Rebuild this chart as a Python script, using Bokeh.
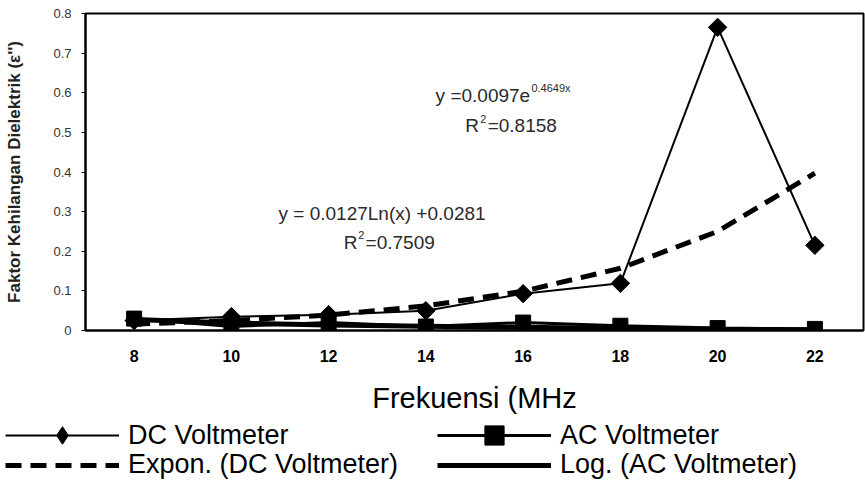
from bokeh.plotting import figure
from bokeh.layouts import column
from bokeh.models import Range1d, Legend, LegendItem, FixedTicker
from bokeh.core.properties import value
from bokeh.embed import file_html
from bokeh.resources import INLINE

# ---- data ----
freq = [8, 10, 12, 14, 16, 18, 20, 22]
dc_voltmeter = [0.025, 0.035, 0.04, 0.05, 0.093, 0.119, 0.765, 0.215]
ac_voltmeter = [0.03, 0.01, 0.02, 0.01, 0.02, 0.012, 0.006, 0.004]
expon_dc_trend = [0.016, 0.025, 0.039, 0.062, 0.099, 0.157, 0.25, 0.397]
log_ac_trend = [0.028, 0.019, 0.014, 0.011, 0.008, 0.005, 0.003, 0.002]

y_ticks = [0, 0.1, 0.2, 0.3, 0.4, 0.5, 0.6, 0.7, 0.8]
y_tick_labels = ["0", "0.1", "0.2", "0.3", "0.4", "0.5", "0.6", "0.7", "0.8"]

eq_texts = ["y =0.0097e", "R", "=0.8158", "y = 0.0127Ln(x) +0.0281", "R", "=0.7509"]
eq_x = [14.20, 14.81, 15.27, 10.97, 12.31, 12.76]
eq_y = [0.593, 0.517, 0.517, 0.295, 0.222, 0.222]
sup_texts = ["0.4649x", "2", "2"]
sup_x = [16.17, 15.12, 12.61]
sup_y = [0.611, 0.535, 0.240]

FONT = "Liberation Sans"

# ---------------- main chart ----------------
p = figure(width=865, height=418,
           x_range=Range1d(7, 23), y_range=Range1d(0, 0.8),
           output_backend="svg", toolbar_location=None,
           min_border_left=85, min_border_right=2,
           min_border_top=13, min_border_bottom=88,
           background_fill_color="white", border_fill_color="white")
p.frame_align = False
p.grid.visible = False
p.outline_line_color = "black"
p.outline_line_width = 2

xa = p.xaxis[0]
xa.ticker = FixedTicker(ticks=freq)
xa.major_tick_out = 0
xa.major_tick_in = 0
xa.minor_tick_out = 0
xa.minor_tick_in = 0
xa.axis_line_width = 2
xa.axis_line_color = "black"
xa.major_label_standoff = 19
xa.major_label_text_font = FONT
xa.major_label_text_font_style = "bold"
xa.major_label_text_font_size = "16px"
xa.major_label_text_color = "black"
xa.axis_label = "Frekuensi (MHz"
xa.axis_label_text_font = FONT
xa.axis_label_text_font_style = "normal"
xa.axis_label_text_font_size = "29px"
xa.axis_label_text_color = "black"
xa.axis_label_standoff = 17

ya = p.yaxis[0]
ya.ticker = FixedTicker(ticks=y_ticks)
ya.major_label_overrides = {t: l for t, l in zip(y_ticks, y_tick_labels)}
ya.major_tick_out = 4
ya.major_tick_in = 0
ya.minor_tick_out = 0
ya.minor_tick_in = 0
ya.axis_line_width = 2
ya.axis_line_color = "black"
ya.major_label_standoff = 10
ya.major_label_text_font = FONT
ya.major_label_text_font_size = "13px"
ya.major_label_text_color = "#333333"
ya.axis_label = "Faktor Kehilangan Dielektrik (ε'')"
ya.axis_label_text_font = FONT
ya.axis_label_text_font_style = "bold"
ya.axis_label_text_font_size = "17px"
ya.axis_label_text_color = "#222222"
ya.axis_label_standoff = 26

EXP_STYLE = dict(line_width=5, line_dash="16 9", color="black")
LOG_STYLE = dict(line_width=5, color="black")
AC_LINE = dict(line_width=3, color="black")
AC_PTS = dict(marker="square", size=15, color="black")
DC_LINE = dict(line_width=2, color="black")
DC_PTS = dict(marker="square", angle=0.785, size=13, color="black")

p.line(freq, expon_dc_trend, **EXP_STYLE)
p.line(freq, log_ac_trend, **LOG_STYLE)
p.line(freq, ac_voltmeter, **AC_LINE)
p.scatter(freq, ac_voltmeter, **AC_PTS)
p.line(freq, dc_voltmeter, **DC_LINE)
p.scatter(freq, dc_voltmeter, **DC_PTS)

p.text(x=eq_x, y=eq_y, text=eq_texts, text_font=value(FONT), text_font_size="19px",
       text_baseline="middle", text_align="left", text_color="#2a2a2a")
p.text(x=sup_x, y=sup_y, text=sup_texts, text_font=value(FONT), text_font_size="11px",
       text_baseline="middle", text_align="left", text_color="#2a2a2a")

# ---------------- legend strip ----------------
# same series drawn again but outside this strip's ranges: only their legend glyphs show
lg = figure(width=865, height=64, x_range=Range1d(100, 101), y_range=Range1d(100, 101),
            x_axis_type=None, y_axis_type=None,
            output_backend="svg", toolbar_location=None,
            min_border=0, outline_line_color=None,
            background_fill_color="white", border_fill_color="white")
lg.frame_align = False
lg.grid.visible = False

l_dc = lg.line(freq, dc_voltmeter, **DC_LINE)
s_dc = lg.scatter(freq, dc_voltmeter, marker="diamond", size=13, color="black")
l_ac = lg.line(freq, ac_voltmeter, **AC_LINE)
s_ac = lg.scatter(freq, ac_voltmeter, **AC_PTS)
l_exp = lg.line(freq, expon_dc_trend, **EXP_STYLE)
l_log = lg.line(freq, log_ac_trend, **LOG_STYLE)


def add_entry(label, renderers, vx, vy, h):
    leg = Legend(items=[LegendItem(label=label, renderers=renderers)],
                 location=(vx, vy), orientation="vertical",
                 glyph_width=114, glyph_height=h, label_height=h,
                 label_standoff=9, padding=0, margin=0, spacing=0,
                 border_line_alpha=0, background_fill_alpha=0,
                 label_text_font=FONT, label_text_font_size="27px",
                 label_text_color="black")
    lg.add_layout(leg, "center")


add_entry("DC Voltmeter", [l_dc, s_dc], 5, 25, 44)
add_entry("AC Voltmeter", [l_ac, s_ac], 437, 23, 48)
add_entry("Expon. (DC Voltmeter)", [l_exp], 5, 2, 30)
add_entry("Log. (AC Voltmeter)", [l_log], 437, 2, 30)

layout = column(p, lg, spacing=0)
open("out.html", "w").write(file_html(layout, INLINE))
